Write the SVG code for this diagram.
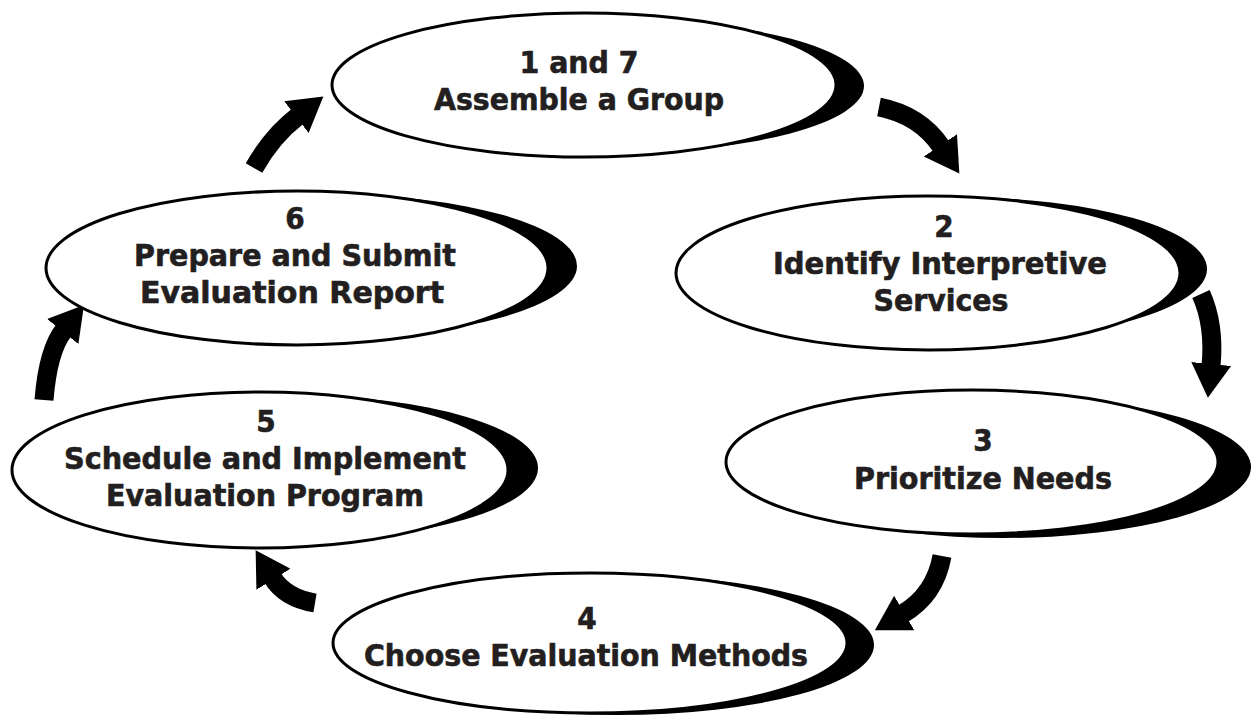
<svg xmlns="http://www.w3.org/2000/svg" width="1255" height="715" viewBox="0 0 1255 715">
<style>
.shadow{fill:#000}
.face{fill:#fff;stroke:#000;stroke-width:3}
.lbl{font-family:"DejaVu Sans Condensed","DejaVu Sans",sans-serif;font-stretch:condensed;font-weight:bold;font-size:31px;fill:#231f20;stroke:#231f20;stroke-width:0.6;text-anchor:middle}
.arr{fill:none;stroke:#000;stroke-width:19;stroke-linecap:butt;marker-end:url(#ah)}
</style>
<defs>
<marker id="ah" markerUnits="userSpaceOnUse" viewBox="0 -22 36 44" refX="2" refY="0" markerWidth="36" markerHeight="44" orient="auto">
<path d="M0,-20 L34,0 L0,20 Z" fill="#000"/>
</marker>
</defs>
<rect width="1255" height="715" fill="#fff"/>
<g id="connectors">
<path class="arr" d="M879,107 Q920,115 941.5,147"/>
<path class="arr" d="M1201,294 Q1215,325 1211,366"/>
<path class="arr" d="M942,556 Q935,595 902.5,614"/>
<path class="arr" d="M315,603 Q285,598 272.4,577.5"/>
<path class="arr" d="M44,400 Q48,350 64,330"/>
<path class="arr" d="M254,168 Q272,136 298,116"/>
</g>
<g id="node1">
<ellipse class="shadow" cx="612" cy="86" rx="252" ry="67"/>
<ellipse class="face" cx="584" cy="85" rx="252" ry="72"/>
<text class="lbl" x="579" y="73" textLength="119" lengthAdjust="spacingAndGlyphs">1 and 7</text>
<text class="lbl" x="579" y="110" textLength="290" lengthAdjust="spacingAndGlyphs">Assemble a Group</text>
</g>
<g id="node2">
<ellipse class="shadow" cx="955" cy="269" rx="252" ry="72"/>
<ellipse class="face" cx="928" cy="273" rx="252" ry="77"/>
<text class="lbl" x="944" y="237">2</text>
<text class="lbl" x="940" y="274" textLength="334" lengthAdjust="spacingAndGlyphs">Identify Interpretive</text>
<text class="lbl" x="941" y="311" textLength="135" lengthAdjust="spacingAndGlyphs">Services</text>
</g>
<g id="node3">
<ellipse class="shadow" cx="1003" cy="467" rx="248" ry="71"/>
<ellipse class="face" cx="972" cy="462" rx="246" ry="72"/>
<text class="lbl" x="983" y="451">3</text>
<text class="lbl" x="983" y="489" textLength="258" lengthAdjust="spacingAndGlyphs">Prioritize Needs</text>
</g>
<g id="node4">
<ellipse class="shadow" cx="617" cy="645" rx="257" ry="70"/>
<ellipse class="face" cx="590" cy="643" rx="257" ry="70"/>
<text class="lbl" x="587" y="629">4</text>
<text class="lbl" x="586" y="666" textLength="444" lengthAdjust="spacingAndGlyphs">Choose Evaluation Methods</text>
</g>
<g id="node5">
<ellipse class="shadow" cx="288" cy="468" rx="250" ry="73"/>
<ellipse class="face" cx="260" cy="470" rx="248" ry="78"/>
<text class="lbl" x="266" y="432">5</text>
<text class="lbl" x="265" y="469" textLength="402" lengthAdjust="spacingAndGlyphs">Schedule and Implement</text>
<text class="lbl" x="265" y="506" textLength="318" lengthAdjust="spacingAndGlyphs">Evaluation Program</text>
</g>
<g id="node6">
<ellipse class="shadow" cx="325" cy="266" rx="252" ry="72"/>
<ellipse class="face" cx="297" cy="268" rx="251" ry="77"/>
<text class="lbl" x="295" y="229">6</text>
<text class="lbl" x="295" y="266" textLength="322" lengthAdjust="spacingAndGlyphs">Prepare and Submit</text>
<text class="lbl" x="292" y="303" textLength="304" lengthAdjust="spacingAndGlyphs">Evaluation Report</text>
</g>
</svg>
